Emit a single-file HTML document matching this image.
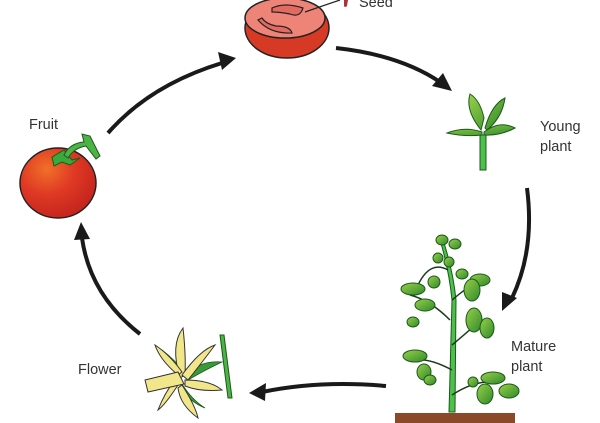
<!DOCTYPE html>
<html><head><meta charset="utf-8"><style>
html,body{margin:0;padding:0;background:#fff;}
svg{display:block;font-family:"Liberation Sans",sans-serif;}
</style></head><body>
<svg width="600" height="423" viewBox="0 0 600 423" xmlns="http://www.w3.org/2000/svg">
<defs>
<radialGradient id="tom" cx="0.35" cy="0.3" r="0.8"><stop offset="0" stop-color="#f07028"/><stop offset="0.45" stop-color="#e03a24"/><stop offset="1" stop-color="#c0201c"/></radialGradient>
<linearGradient id="lf" x1="0" y1="0" x2="1" y2="1"><stop offset="0" stop-color="#9ad04a"/><stop offset="1" stop-color="#2e8a2a"/></linearGradient>
</defs>
<g fill="none" stroke="#1a1a1a" stroke-width="4" stroke-linecap="butt">
<path d="M108,133 Q150,85 222,63"/>
<path d="M336,48 Q400,55 440,82"/>
<path d="M527,188 Q535,250 512,298"/>
<path d="M386,386 Q320,380 262,392"/>
<path d="M140,334 Q90,295 82,238"/>
</g>
<g fill="#1a1a1a">
<path d="M236,58 L218,52 L222,70 Z"/>
<path d="M452,91 L432,86 L443,73 Z"/>
<path d="M502,311 L502,292 L517,298 Z"/>
<path d="M249,393 L266,383 L265,401 Z"/>
<path d="M81,222 L74,240 L90,239 Z"/>
</g>
<!-- cut tomato -->
<ellipse cx="287" cy="28" rx="42" ry="30" fill="#d63a24" stroke="#222" stroke-width="1.5"/>
<ellipse cx="285" cy="18" rx="40" ry="20" fill="#ee8478" stroke="#222" stroke-width="1.5"/>
<path d="M272,8 Q285,2 303,8 Q300,18 290,14 Q280,12 272,12 Z M258,20 Q270,34 292,33 Q290,26 276,26 Q266,24 262,18 Z" fill="#e26a60" stroke="#222" stroke-width="1.2"/>
<path d="M305,12 Q325,5 340,0" fill="none" stroke="#222" stroke-width="1.2"/>
<path d="M344,0 L348,0 L347,6 Q345,8 344,6 Z" fill="#a33" />
<text x="359" y="7" font-size="14.5" fill="#333">Seed</text>
<!-- fruit -->
<ellipse cx="58" cy="183" rx="38" ry="35" fill="url(#tom)" stroke="#222" stroke-width="1.5"/>
<path d="M52,157 L64,150 L72,160 L80,158 L70,165 L62,162 L54,166 Z" fill="#3aa83a" stroke="#1a5a1a" stroke-width="1"/>
<path d="M64,155 Q70,143 84,142 L82,134 L90,136 L100,156 L96,159 L86,146 Q74,148 68,158 Z" fill="#4cb444" stroke="#1a5a1a" stroke-width="1"/>
<text x="29" y="129" font-size="14.5" fill="#333">Fruit</text>
<!-- young plant -->
<path d="M480,135 L480,170 L486,170 L486,135 Z" fill="#4cc04a" stroke="#1a5a1a" stroke-width="1"/>
<path d="M482,132 Q465,126 447,133 Q465,137 482,135 Z M484,132 Q500,120 515,128 Q500,136 484,135 Z" fill="url(#lf)" stroke="#1a5a1a" stroke-width="1"/>
<path d="M481,130 Q465,110 470,94 Q480,100 484,118 Z M485,128 Q492,104 505,98 Q502,118 487,130 Z" fill="url(#lf)" stroke="#1a5a1a" stroke-width="1"/>
<text x="540" y="131" font-size="14.5" fill="#333">Young</text>
<text x="540" y="151" font-size="14.5" fill="#333">plant</text>
<!-- mature plant -->
<rect x="395" y="413" width="120" height="10" fill="#8a4a2a"/>
<g stroke="#1a5a1a" stroke-width="1" fill="url(#lf)">
<path d="M449,412 L452,300 Q449,270 440,240 L443,240 Q453,270 456,300 L455,412 Z" fill="#4cc04a"/>
<path d="M452,300 Q470,285 480,280 M450,320 Q430,300 410,295 M452,345 Q470,330 475,325 M452,370 Q430,358 415,360 M452,395 Q475,380 495,382 M448,270 Q430,260 418,285" fill="none" stroke="#1a3a1a" stroke-width="1.5"/>
<ellipse cx="413" cy="289" rx="12" ry="6"/><ellipse cx="425" cy="305" rx="10" ry="6"/>
<ellipse cx="480" cy="280" rx="10" ry="6"/><ellipse cx="472" cy="290" rx="8" ry="11"/>
<ellipse cx="474" cy="320" rx="8" ry="12"/><ellipse cx="487" cy="328" rx="7" ry="10"/>
<ellipse cx="415" cy="356" rx="12" ry="6"/><ellipse cx="424" cy="372" rx="7" ry="8"/>
<ellipse cx="430" cy="380" rx="6" ry="5"/><ellipse cx="493" cy="378" rx="12" ry="6"/>
<ellipse cx="485" cy="394" rx="8" ry="10"/><ellipse cx="509" cy="391" rx="10" ry="7"/>
<ellipse cx="442" cy="240" rx="6" ry="5"/><ellipse cx="455" cy="244" rx="6" ry="5"/>
<ellipse cx="438" cy="258" rx="5" ry="5"/><ellipse cx="449" cy="262" rx="5" ry="5"/>
<ellipse cx="434" cy="282" rx="6" ry="6"/><ellipse cx="462" cy="274" rx="6" ry="5"/>
<ellipse cx="413" cy="322" rx="6" ry="5"/><ellipse cx="473" cy="382" rx="5" ry="5"/>
</g>
<text x="511" y="351" font-size="14.5" fill="#333">Mature</text>
<text x="511" y="371" font-size="14.5" fill="#333">plant</text>
<!-- flower -->
<path d="M220,335 L228,398 L232,398 L224,335 Z" fill="#4cb444" stroke="#1a5a1a" stroke-width="1"/>
<g fill="#3a9a3a" stroke="#1a5a1a" stroke-width="0.8">
<path d="M184,376 Q200,360 222,362 Q205,370 188,380 Z"/>
<path d="M182,384 Q192,400 205,408 Q190,402 180,388 Z"/>
<path d="M180,375 Q168,358 162,350 Q175,360 184,372 Z"/>
</g>
<g fill="#f2e68a" stroke="#333" stroke-width="1">
<path d="M180,378 Q170,345 183,328 Q186,355 185,375 Z"/>
<path d="M182,375 Q200,350 215,345 Q200,365 188,380 Z"/>
<path d="M185,380 Q210,380 222,390 Q200,392 185,386 Z"/>
<path d="M182,385 Q195,405 198,418 Q180,405 178,388 Z"/>
<path d="M178,385 Q165,405 158,410 Q165,392 175,380 Z"/>
<path d="M178,375 Q160,360 155,345 Q170,355 182,372 Z"/>
<path d="M145,380 L178,372 L184,384 L148,392 Z"/>
</g>
<text x="78" y="374" font-size="14.5" fill="#333">Flower</text>
</svg>
</body></html>
